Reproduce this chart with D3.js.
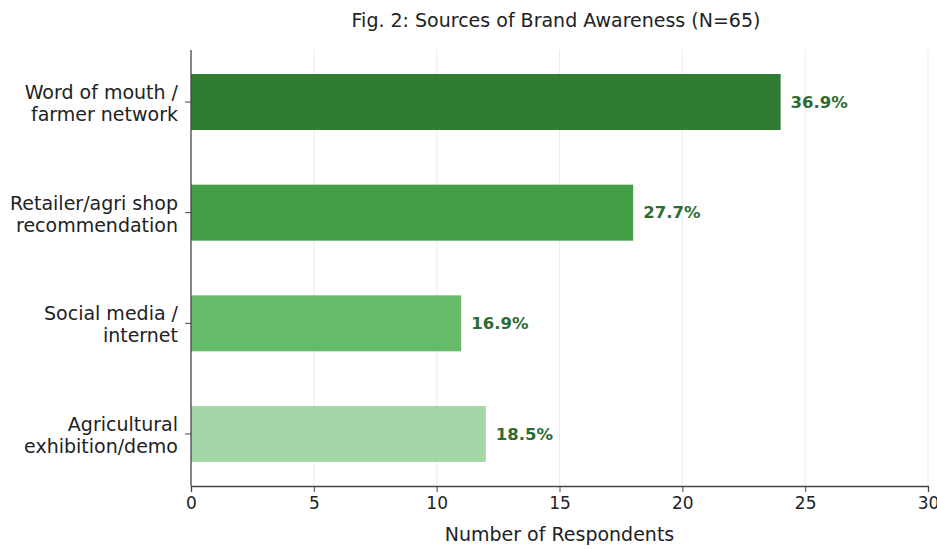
<!DOCTYPE html>
<html>
<head>
<meta charset="utf-8">
<script src="https://cdn.jsdelivr.net/npm/d3@7"></script>
<style>
  html, body { margin: 0; padding: 0; background: #fff; }
  svg { display: block; font-family: "DejaVu Sans", sans-serif; }
</style>
</head>
<body>
<svg id="chart" width="937" height="549"></svg>
<script>
// Sources of brand awareness, respondents per source (N = 65)
const categories = [
  ["Word of mouth /", "farmer network"],
  ["Retailer/agri shop", "recommendation"],
  ["Social media /", "internet"],
  ["Agricultural", "exhibition/demo"]
];
const counts = [24, 18, 11, 12];
const total = 65;
const barColors = ["#2e7d32", "#43a047", "#66bb6a", "#a5d6a7"];
const xTicks = [0, 5, 10, 15, 20, 25, 30];
const titleText = "Fig. 2: Sources of Brand Awareness (N=65)";
const xLabel = "Number of Respondents";

const svg = d3.select("#chart");
const plotLeft = 191, plotRight = 928, plotTop = 50, plotBottom = 486;

const x = d3.scaleLinear().domain([0, 30]).range([plotLeft, plotRight]);
const y = d3.scaleLinear().domain([-0.47, 3.47]).range([plotTop, plotBottom]);
const barH = 0.506;

// vertical grid
svg.append("g")
  .selectAll("line")
  .data(xTicks.filter(t => t > 0))
  .join("line")
  .attr("x1", d => x(d)).attr("x2", d => x(d))
  .attr("y1", plotTop).attr("y2", plotBottom)
  .attr("stroke", "#ececec")
  .attr("stroke-width", 1);

// bars
svg.append("g")
  .selectAll("rect")
  .data(counts)
  .join("rect")
  .attr("x", x(0))
  .attr("y", (d, i) => y(i - barH / 2))
  .attr("width", d => x(d) - x(0))
  .attr("height", y(barH) - y(0))
  .attr("fill", (d, i) => barColors[i]);

// percentage labels
svg.append("g")
  .selectAll("text")
  .data(counts)
  .join("text")
  .attr("x", d => x(d) + 10)
  .attr("y", (d, i) => y(i))
  .attr("dy", "0.35em")
  .attr("font-size", 16.5)
  .attr("font-weight", "bold")
  .attr("fill", "#2e6b32")
  .text(d => (d / total * 100).toFixed(1) + "%");

// x axis
const xAxis = svg.append("g")
  .attr("transform", `translate(0,${plotBottom})`)
  .call(d3.axisBottom(x).tickValues(xTicks).tickSize(6).tickPadding(5).tickFormat(d3.format("d")));
xAxis.select(".domain").attr("stroke", "#444").attr("stroke-width", 1.3);
xAxis.selectAll(".tick line").attr("stroke", "#444");
xAxis.selectAll(".tick text")
  .attr("font-family", "DejaVu Sans, sans-serif")
  .attr("font-size", 17)
  .attr("fill", "#222");

// y axis (spine + ticks + wrapped labels)
svg.append("line")
  .attr("x1", plotLeft).attr("x2", plotLeft)
  .attr("y1", plotTop).attr("y2", plotBottom)
  .attr("stroke", "#444").attr("stroke-width", 1.3);

const yTicks = svg.append("g")
  .selectAll("g")
  .data(categories)
  .join("g")
  .attr("transform", (d, i) => `translate(${plotLeft},${y(i)})`);
yTicks.append("line")
  .attr("x1", -6).attr("x2", 0)
  .attr("stroke", "#444");
yTicks.append("text")
  .attr("text-anchor", "end")
  .attr("font-size", 19)
  .attr("fill", "#222")
  .selectAll("tspan")
  .data(d => d)
  .join("tspan")
  .attr("x", -13)
  .attr("y", (d, j) => (j === 0 ? -3 : 19))
  .text(d => d);

// title
svg.append("text")
  .attr("x", 556)
  .attr("y", 27)
  .attr("text-anchor", "middle")
  .attr("font-size", 19)
  .attr("fill", "#222")
  .text(titleText);

// x axis title
svg.append("text")
  .attr("x", (plotLeft + plotRight) / 2)
  .attr("y", 541)
  .attr("text-anchor", "middle")
  .attr("font-size", 19)
  .attr("fill", "#222")
  .text(xLabel);
</script>
</body>
</html>
